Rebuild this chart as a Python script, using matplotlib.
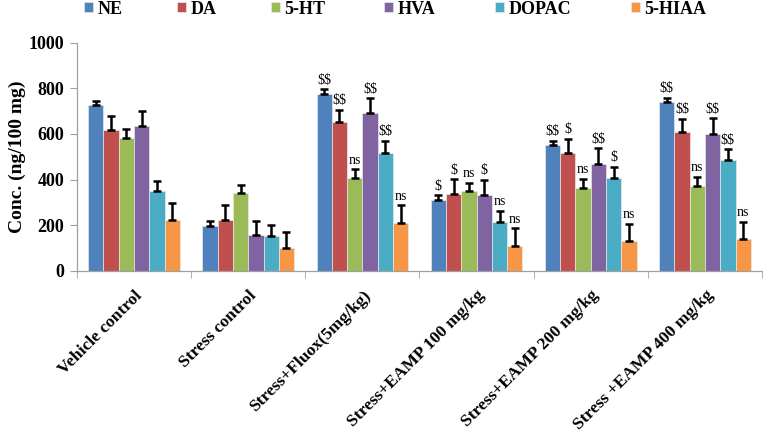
import matplotlib
matplotlib.use("Agg")
import matplotlib.pyplot as plt
import numpy as np

groups = ["Vehicle control", "Stress control", "Stress+Fluox(5mg/kg)",
          "Stress+EAMP 100 mg/kg", "Stress+EAMP 200 mg/kg", "Stress +EAMP 400 mg/kg"]
series = ["NE", "DA", "5-HT", "HVA", "DOPAC", "5-HIAA"]
colors = ["#4F81BD", "#C0504D", "#9BBB59", "#8064A2", "#4BACC6", "#F79646"]

NE    = [725, 197, 775, 310, 550, 739]
DA    = [617, 222, 652, 336, 515, 607]
HT5   = [580, 340, 407, 348, 364, 371]
HVA   = [635, 157, 690, 333, 468, 598]
DOPAC = [350, 152, 518, 214, 407, 484]
HIAA  = [222, 98, 210, 108, 129, 140]

NE_err    = [20, 22, 20, 20, 20, 20]
DA_err    = [60, 65, 55, 65, 64, 58]
HT5_err   = [40, 37, 38, 38, 38, 39]
HVA_err   = [65, 62, 66, 65, 69, 70]
DOPAC_err = [45, 50, 50, 48, 48, 48]
HIAA_err  = [74, 73, 77, 78, 76, 75]

NE_sig    = ["", "", "$$", "$", "$$", "$$"]
DA_sig    = ["", "", "$$", "$", "$", "$$"]
HT5_sig   = ["", "", "ns", "ns", "ns", "ns"]
HVA_sig   = ["", "", "$$", "$", "$$", "$$"]
DOPAC_sig = ["", "", "$$", "ns", "$", "$$"]
HIAA_sig  = ["", "", "ns", "ns", "ns", "ns"]

values = [NE, DA, HT5, HVA, DOPAC, HIAA]
errors = [NE_err, DA_err, HT5_err, HVA_err, DOPAC_err, HIAA_err]
sigs = [NE_sig, DA_sig, HT5_sig, HVA_sig, DOPAC_sig, HIAA_sig]

W, H = 763, 437
fig = plt.figure(figsize=(W/100, H/100), dpi=100)
ax = fig.add_axes([77/W, 1-270.7/H, 685/W, (270.7-42.7)/H])

serif = "Liberation Serif"
x = np.arange(len(groups))
bw = 0.134
bars = []
for i, (s, v, e, sg, c) in enumerate(zip(series, values, errors, sigs, colors)):
    pos = x + (i - 2.5) * bw
    b = ax.bar(pos, v, width=bw, color=c, edgecolor="#e8e8e8", linewidth=0.5, label=s, zorder=2)
    bars.append(b)
    ax.errorbar(pos, v, yerr=[np.zeros(len(e)), e], fmt="none", ecolor="black",
                elinewidth=1.8, capsize=3.2, capthick=1.8, zorder=3)
    for p, val, err, t in zip(pos, v, e, sg):
        if t:
            ax.text(p, val + err + 12, t, ha="center", va="bottom", fontsize=10,
                    family=serif, parse_math=False, zorder=4)

ax.set_xlim(-0.5, len(groups) - 0.5)
ax.set_ylim(0, 1000)
ax.set_yticks(range(0, 1001, 200))
ax.set_yticklabels([str(t) for t in range(0, 1001, 200)], fontsize=13,
                   fontweight="bold", family=serif)
ax.set_xticks(x)
ax.set_xticklabels(groups, rotation=45, ha="right", rotation_mode="anchor",
                   fontsize=12.6, fontweight="bold", family=serif)
ax.tick_params(axis="x", which="major", length=0, pad=12)
ax.set_xticks(np.arange(-0.5, len(groups), 1.0), minor=True)
ax.tick_params(axis="x", which="minor", length=5, color="#a0a0a0")
ax.tick_params(axis="y", length=5, color="#a0a0a0", pad=4)
ax.set_ylabel("Conc. (ng/100 mg)", fontsize=14, fontweight="bold", family=serif, labelpad=2)

for sp in ["top", "right"]:
    ax.spines[sp].set_visible(False)
for sp in ["left", "bottom"]:
    ax.spines[sp].set_color("#a0a0a0")
    ax.spines[sp].set_linewidth(0.9)

leg_x = [84, 177, 271, 384, 495, 631]
for b, s, lx in zip(bars, series, leg_x):
    lg = fig.legend([b], [s], loc="upper left", bbox_to_anchor=(lx/W, 1.0 - 0.5/H),
                    frameon=False, borderpad=0, borderaxespad=0,
                    prop={"family": serif, "weight": "bold", "size": 13},
                    handlelength=0.5, handleheight=0.5, handletextpad=0.25)

fig.savefig("out.png", dpi=100)
